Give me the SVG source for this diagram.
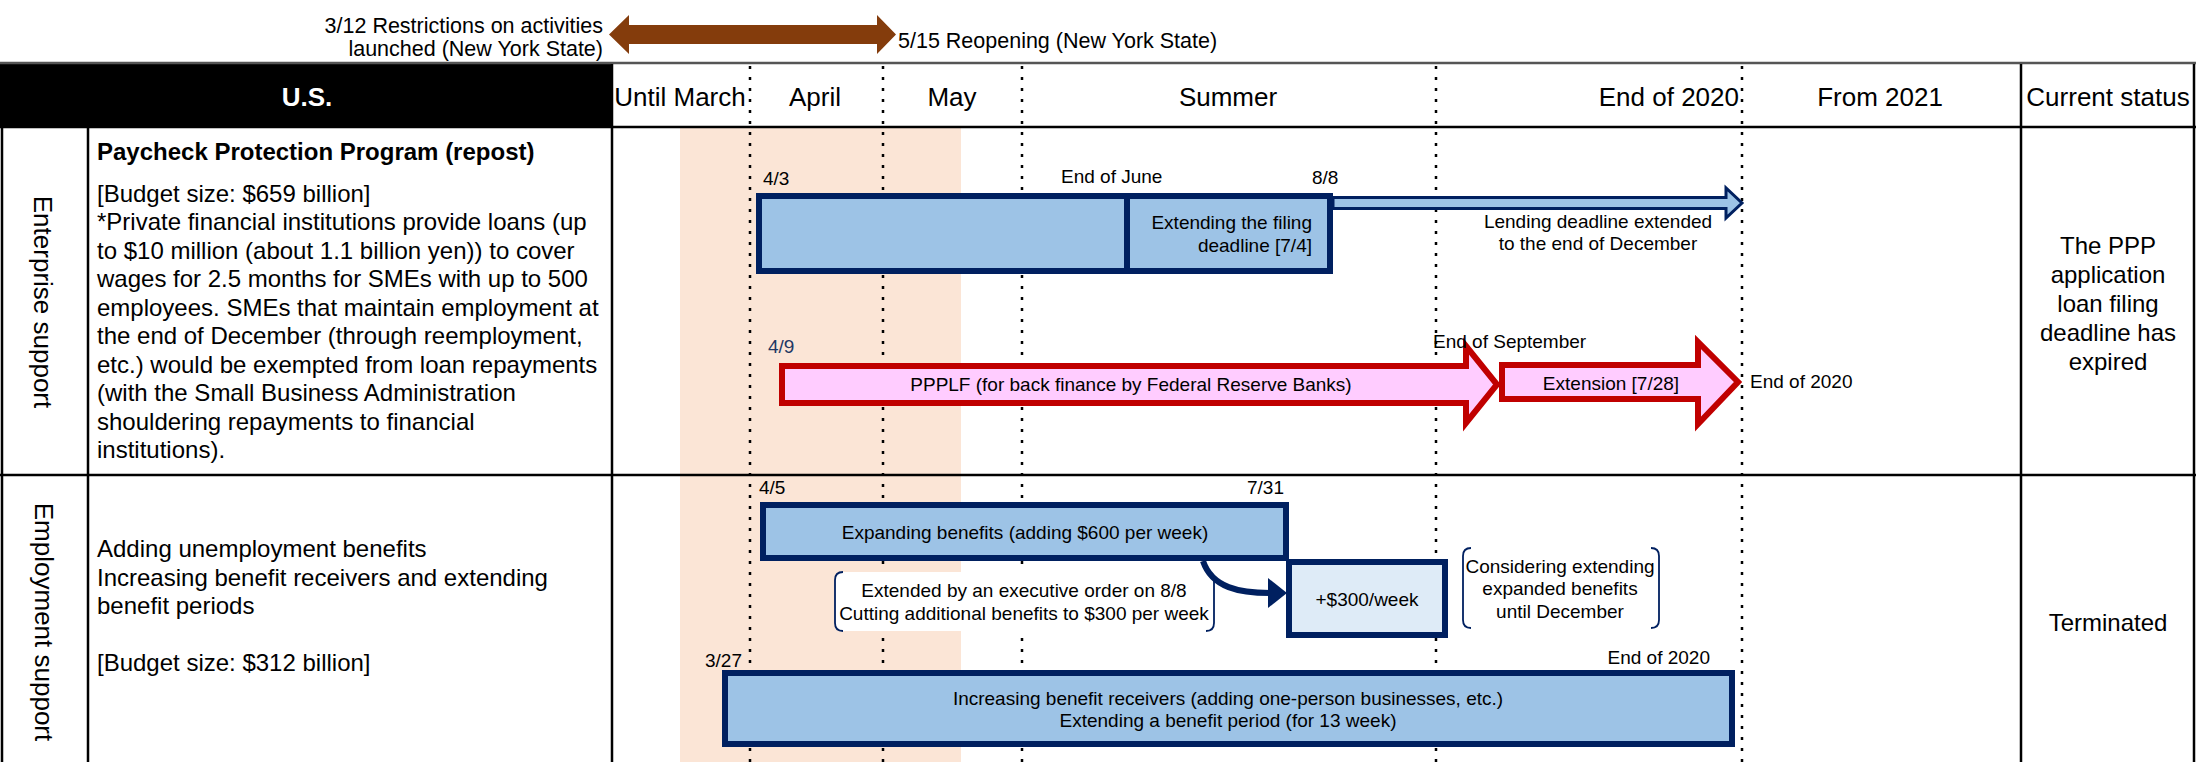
<svg xmlns="http://www.w3.org/2000/svg" width="2196" height="762" viewBox="0 0 2196 762">
<style>
text{font-family:"Liberation Sans",Arial,sans-serif;fill:#000}
.hd{font-size:26px}
.body{font-size:24px}
.lbl{font-size:19px}
.dot{stroke:#000;stroke-width:2.5;stroke-dasharray:3 8;fill:none}
.grid{stroke:#000;stroke-width:2.5;fill:none}
.navybox{fill:#9DC3E6;stroke:#002060;stroke-width:6}
.lightbox{fill:#DEEBF7;stroke:#002060;stroke-width:6}
.redarrow{fill:#FFCCFF;stroke:#C00000;stroke-width:6;stroke-linejoin:miter}
.bracket{fill:none;stroke:#002060;stroke-width:1.8}
.mid{text-anchor:middle}
.end{text-anchor:end}
</style>

<!-- background bands -->
<g id="background">
<rect x="0" y="0" width="2196" height="762" fill="#fff"/>
<rect x="680" y="127" width="281" height="635" fill="#FBE5D6"/>
</g>

<!-- top timeline arrow -->
<g id="restriction-arrow">
<polygon points="609,34.5 629,15 629,25 877,25 877,15 896,34.5 877,54 877,44 629,44 629,54" fill="#843C0C"/>
<text x="603" y="33" font-size="21.5" class="end">3/12 Restrictions on activities</text>
<text x="603" y="56" font-size="21.5" class="end">launched (New York State)</text>
<text x="898" y="48" font-size="21.5">5/15 Reopening (New York State)</text>
</g>

<!-- header -->
<g id="header">
<rect x="0" y="64" width="613" height="63" fill="#000"/>
<rect x="613" y="64" width="1581" height="63" fill="#fff"/>
<line x1="0" y1="63" x2="2196" y2="63" stroke="#555" stroke-width="2.5"/>
<text x="307" y="106" class="hd mid" font-weight="bold" style="fill:#fff">U.S.</text>
<text x="680" y="106" class="hd mid">Until March</text>
<text x="815" y="106" class="hd mid">April</text>
<text x="952" y="106" class="hd mid">May</text>
<text x="1228" y="106" class="hd mid">Summer</text>
<text x="1739" y="106" class="hd end">End of 2020</text>
<text x="1880" y="106" class="hd mid">From 2021</text>
<text x="2108" y="106" class="hd mid">Current status</text>
</g>

<!-- grid lines -->
<g id="grid">
<line x1="0" y1="127" x2="2196" y2="127" class="grid"/>
<line x1="0" y1="475" x2="2196" y2="475" class="grid"/>
<line x1="2" y1="127" x2="2" y2="762" class="grid"/>
<line x1="88" y1="127" x2="88" y2="762" class="grid"/>
<line x1="612" y1="64" x2="612" y2="762" class="grid"/>
<line x1="2021" y1="64" x2="2021" y2="762" class="grid"/>
<line x1="2194" y1="64" x2="2194" y2="762" class="grid"/>
</g>

<!-- dotted time dividers -->
<g id="dividers">
<line x1="750" y1="66" x2="750" y2="762" class="dot"/>
<line x1="883" y1="66" x2="883" y2="762" class="dot"/>
<line x1="1022" y1="66" x2="1022" y2="762" class="dot"/>
<line x1="1436" y1="66" x2="1436" y2="762" class="dot"/>
<line x1="1742" y1="66" x2="1742" y2="762" class="dot"/>
</g>

<!-- row labels -->
<g id="row-enterprise">
<text transform="translate(34,302) rotate(90)" class="hd mid">Enterprise support</text>
<text x="97" y="160" class="body" font-weight="bold">Paycheck Protection Program (repost)</text>
<text x="97" y="202" class="body">[Budget size: $659 billion]</text>
<text x="97" y="230" class="body">*Private financial institutions provide loans (up</text>
<text x="97" y="258.5" class="body">to $10 million (about 1.1 billion yen)) to cover</text>
<text x="97" y="287" class="body">wages for 2.5 months for SMEs with up to 500</text>
<text x="97" y="315.5" class="body">employees. SMEs that maintain employment at</text>
<text x="97" y="344" class="body">the end of December (through reemployment,</text>
<text x="97" y="372.5" class="body">etc.) would be exempted from loan repayments</text>
<text x="97" y="401" class="body">(with the Small Business Administration</text>
<text x="97" y="429.5" class="body">shouldering repayments to financial</text>
<text x="97" y="458" class="body">institutions).</text>
<text x="2108" y="253.5" class="body mid">The PPP</text>
<text x="2108" y="282.5" class="body mid">application</text>
<text x="2108" y="311.5" class="body mid">loan filing</text>
<text x="2108" y="340.5" class="body mid">deadline has</text>
<text x="2108" y="369.5" class="body mid">expired</text>
</g>

<g id="row-employment">
<text transform="translate(35,622) rotate(90)" class="hd mid">Employment support</text>
<text x="97" y="557" class="body">Adding unemployment benefits</text>
<text x="97" y="585.5" class="body">Increasing benefit receivers and extending</text>
<text x="97" y="614" class="body">benefit periods</text>
<text x="97" y="671" class="body">[Budget size: $312 billion]</text>
<text x="2108" y="630.5" class="body mid">Terminated</text>
</g>

<!-- PPP -->
<g id="ppp">
<rect x="759" y="196" width="571" height="75" class="navybox"/>
<line x1="1127" y1="196" x2="1127" y2="271" stroke="#002060" stroke-width="6"/>
<text x="1312" y="229" class="lbl end">Extending the filing</text>
<text x="1312" y="252" class="lbl end">deadline [7/4]</text>
<text x="763" y="185" class="lbl">4/3</text>
<text x="1061" y="183" class="lbl">End of June</text>
<text x="1312" y="184" class="lbl">8/8</text>
</g>

<g id="lending-arrow">
<polygon points="1333,197.5 1726,197.5 1726,188 1742,203 1726,218 1726,208.5 1333,208.5" fill="#9DC3E6" stroke="#002060" stroke-width="3"/>
<text x="1598" y="228" class="lbl mid">Lending deadline extended</text>
<text x="1598" y="250" class="lbl mid">to the end of December</text>
</g>

<g id="ppplf">
<polygon points="782,366 1466,366 1466,346 1497,384.5 1466,423 1466,403 782,403" class="redarrow"/>
<text x="1131" y="391" class="lbl mid">PPPLF (for back finance by Federal Reserve Banks)</text>
<text x="768" y="353" class="lbl" style="fill:#1F3864">4/9</text>
<text x="1433" y="347.5" class="lbl">End of September</text>
</g>

<g id="ppplf-extension">
<polygon points="1502,365 1698,365 1698,342 1738,382 1698,424 1698,399 1502,399" class="redarrow"/>
<text x="1611" y="389.5" class="lbl mid">Extension [7/28]</text>
<text x="1750" y="388" class="lbl">End of 2020</text>
</g>

<!-- Employment -->
<g id="expanding">
<rect x="763" y="505" width="523" height="53" class="navybox"/>
<text x="1025" y="539" class="lbl mid">Expanding benefits (adding $600 per week)</text>
<text x="759" y="494" class="lbl">4/5</text>
<text x="1247" y="494" class="lbl">7/31</text>
</g>

<g id="exec-order-note">
<rect x="835" y="572" width="379" height="59" rx="9" fill="#fff"/>
<path d="M843,572 Q835,572 835,580 L835,623 Q835,631 843,631" class="bracket"/>
<path d="M1206,572 Q1214,572 1214,580 L1214,623 Q1214,631 1206,631" class="bracket"/>
<text x="1024" y="597" class="lbl mid">Extended by an executive order on 8/8</text>
<text x="1024" y="620" class="lbl mid">Cutting additional benefits to $300 per week</text>
</g>

<g id="plus300">
<rect x="1289" y="562" width="156" height="73" class="lightbox"/>
<text x="1367" y="606" class="lbl mid">+$300/week</text>
</g>

<g id="considering-note">
<rect x="1463" y="548" width="196" height="80" rx="9" fill="#fff"/>
<path d="M1471,548 Q1463,548 1463,556 L1463,620 Q1463,628 1471,628" class="bracket"/>
<path d="M1651,548 Q1659,548 1659,556 L1659,620 Q1659,628 1651,628" class="bracket"/>
<text x="1560" y="573" class="lbl mid">Considering extending</text>
<text x="1560" y="595" class="lbl mid">expanded benefits</text>
<text x="1560" y="617.5" class="lbl mid">until December</text>
</g>

<g id="receivers">
<rect x="725" y="673" width="1007" height="71" class="navybox"/>
<text x="1228" y="705" class="lbl mid">Increasing benefit receivers (adding one-person businesses, etc.)</text>
<text x="1228" y="727" class="lbl mid">Extending a benefit period (for 13 week)</text>
<text x="742" y="667" class="lbl end">3/27</text>
<text x="1710" y="664" class="lbl end">End of 2020</text>
</g>

<!-- connectors -->
<g id="connectors">
<path d="M1203,561 C1212,588 1240,593 1270,593" fill="none" stroke="#002060" stroke-width="6"/>
<polygon points="1268,578 1287,593 1268,608" fill="#002060"/>
</g>
</svg>
